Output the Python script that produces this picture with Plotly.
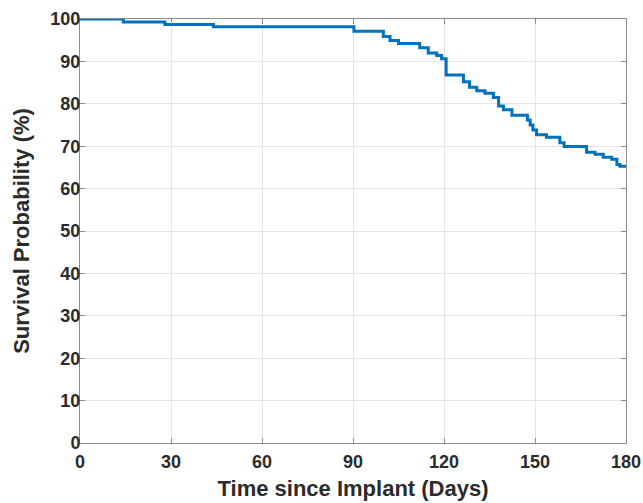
import plotly.graph_objects as go

# Kaplan-Meier style step curve
days = [0, 14.3, 28, 44, 90.3, 100, 102.2, 105, 112, 114.8, 117.6, 119.2,
        120.7, 126.4, 128.4, 130.8, 133.5, 136.3, 138, 139.6, 142.4, 147.5,
        148.4, 149.3, 150.5, 153.8, 158.2, 159.6, 167, 169.8, 172.5, 175.3,
        177, 178, 180]
survival = [100, 99.3, 98.7, 98.2, 97.1, 95.9, 94.9, 94.2, 93.2, 92.0, 91.4, 90.6,
            86.8, 85.2, 83.9, 83.1, 82.5, 81.5, 79.5, 78.6, 77.3, 76.2,
            75.0, 73.8, 72.7, 72.1, 70.8, 69.9, 68.6, 68.1, 67.4, 66.9,
            65.7, 65.3, 65.3]

x_ticks = [0, 30, 60, 90, 120, 150, 180]
y_ticks = [0, 10, 20, 30, 40, 50, 60, 70, 80, 90, 100]

font = "Liberation Sans, Arial, sans-serif"
txt = "#2b2b2b"

fig = go.Figure(
    go.Scatter(
        x=days, y=survival,
        mode="lines",
        line=dict(color="#0072BD", width=3, shape="hv"),
        showlegend=False,
    )
)

axis_common = dict(
    showline=True, linecolor="#8c8c8c", linewidth=1, mirror="ticks",
    ticks="inside", ticklen=5, tickcolor="#8c8c8c",
    showgrid=True, gridcolor="#e3e3e3", gridwidth=1,
    zeroline=False, automargin=False,
    tickfont=dict(family=font, size=18, color=txt, weight="bold"),
)

fig.update_xaxes(
    range=[0, 180], tickvals=x_ticks, ticklabelstandoff=2,
    title=dict(text="Time since Implant (Days)", standoff=10,
               font=dict(family=font, size=22, color=txt, weight="bold")),
    **axis_common,
)
fig.update_yaxes(
    range=[0, 100], tickvals=y_ticks, ticklabelstandoff=-5,
    title=dict(text="Survival Probability (%)", standoff=14,
               font=dict(family=font, size=22, color=txt, weight="bold")),
    **axis_common,
)

fig.update_layout(
    width=643, height=503,
    margin=dict(l=80, r=17, t=19, b=60),
    paper_bgcolor="white",
    plot_bgcolor="white",
)

# drop the default 8px body margin so the figure fills the window exactly
fig.write_html(
    "out.html",
    config={"displayModeBar": False},
    post_script="document.body.style.margin='0';document.body.style.overflow='hidden';",
)
